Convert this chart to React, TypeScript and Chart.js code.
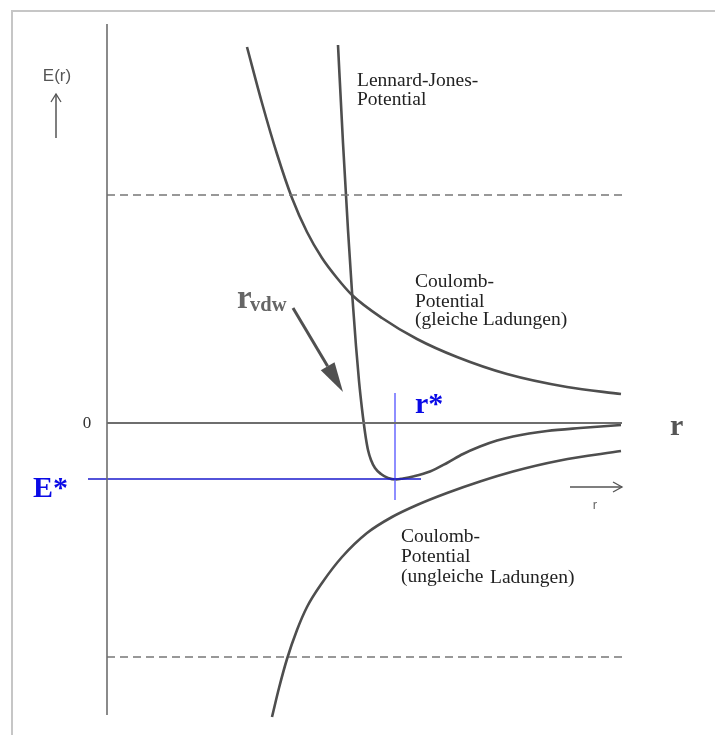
import React, { useEffect, useRef } from "react";
import { Chart, registerables } from "chart.js";

Chart.register(...registerables);

// Schematic units: r to the right of the E axis, E upward from the zero line.
const coulombRepR = [140, 155, 170, 185, 200, 215, 230, 245, 275, 310, 350, 400, 460, 514];
const coulombRepE = [376, 320, 269, 225, 191, 165, 145, 128, 105, 84, 66, 49, 36, 29];

const ljR = [231, 236, 241, 245, 249, 252, 255, 257, 259, 261, 264, 268, 274, 281, 289, 296, 306, 323, 340, 356, 373, 390, 406, 440, 473, 514];
const ljE = [378, 280, 193, 131, 77, 42, 14, -2, -16, -27, -37, -45, -51, -55, -56.5, -55.5, -53.5, -48.5, -40, -31, -23.5, -17.5, -13.5, -8, -5, -2];

const coulombAttR = [165, 172, 180, 190, 200, 215, 235, 260, 285, 310, 340, 373, 406, 453, 514];
const coulombAttE = [-294, -265, -236, -207, -184, -160, -134, -110, -94, -82, -70, -58.5, -48.5, -37.5, -28];

const axisR = [0, 0];
const axisE = [399, -292];
const zeroR = [0, 515];
const zeroE = [0, 0];
const dashR = [0, 516];
const dashUpperE = [228, 228];
const dashLowerE = [-234, -234];

const eStar = -56;
const rStar = 288;
const eStarLineR = [-19, 314];
const rStarLineE = [30, -77];

const toPts = (xs: number[], ys: number[]) => xs.map((x, i) => ({ x, y: ys[i] }));

const SERIF = '"Liberation Serif", "Times New Roman", serif';
const SANS = '"Liberation Sans", Arial, sans-serif';

type Label = { text: string; x: number; y: number; font: string; color: string; align?: CanvasTextAlign; baseline?: CanvasTextBaseline };

const labels: Label[] = [
  { text: "E(r)", x: -50, y: 347, font: `17px ${SANS}`, color: "#555", align: "center", baseline: "middle" },
  { text: "0", x: -20, y: -1, font: `17px ${SERIF}`, color: "#333", align: "center", baseline: "middle" },
  { text: "Lennard-Jones-", x: 250, y: 337, font: `19.5px ${SERIF}`, color: "#222" },
  { text: "Potential", x: 250, y: 318, font: `19.5px ${SERIF}`, color: "#222" },
  { text: "Coulomb-", x: 308, y: 136, font: `19.5px ${SERIF}`, color: "#222" },
  { text: "Potential", x: 308, y: 116, font: `19.5px ${SERIF}`, color: "#222" },
  { text: "(gleiche Ladungen)", x: 308, y: 98, font: `19.5px ${SERIF}`, color: "#222" },
  { text: "Coulomb-", x: 294, y: -119, font: `19.5px ${SERIF}`, color: "#222" },
  { text: "Potential", x: 294, y: -139, font: `19.5px ${SERIF}`, color: "#222" },
  { text: "(ungleiche", x: 294, y: -159, font: `19.5px ${SERIF}`, color: "#222" },
  { text: "Ladungen)", x: 383, y: -160, font: `19.5px ${SERIF}`, color: "#222" },
  { text: "E*", x: -74, y: -74, font: `bold 30px ${SERIF}`, color: "#0a0ae6" },
  { text: "r*", x: 308, y: 10, font: `bold 30px ${SERIF}`, color: "#0a0ae6" },
  { text: "r", x: 563, y: -12, font: `bold 30px ${SERIF}`, color: "#555" },
  { text: "r", x: 488, y: -82, font: `13px ${SANS}`, color: "#666", align: "center", baseline: "middle" },
  { text: "r", x: 130, y: 115, font: `bold 33px ${SERIF}`, color: "#666" },
  { text: "vdw", x: 143, y: 112, font: `bold 20.5px ${SERIF}`, color: "#666" },
];

type Arrow = { x1: number; y1: number; x2: number; y2: number; color: string; width: number; head: number; half: number; filled: boolean };

const arrows: Arrow[] = [
  { x1: -51, y1: 285, x2: -51, y2: 329, color: "#555", width: 1.5, head: 8, half: 5, filled: false },
  { x1: 463, y1: -64, x2: 515, y2: -64, color: "#555", width: 1.5, head: 9, half: 5, filled: false },
  { x1: 186, y1: 115, x2: 236, y2: 31, color: "#505050", width: 3, head: 30, half: 8, filled: true },
];

const annotationPlugin = {
  id: "schemeAnnotations",
  beforeDraw(chart: any) {
    const ctx = chart.ctx;
    ctx.save();
    ctx.fillStyle = "#c6c6c6";
    ctx.fillRect(11, 10, chart.width, 2);
    ctx.fillRect(11, 10, 2, chart.height);
    ctx.restore();
  },
  afterDatasetsDraw(chart: any) {
    const ctx = chart.ctx;
    const xs = chart.scales.x;
    const ys = chart.scales.y;
    ctx.save();
    for (const a of arrows) {
      const x1 = xs.getPixelForValue(a.x1);
      const y1 = ys.getPixelForValue(a.y1);
      const x2 = xs.getPixelForValue(a.x2);
      const y2 = ys.getPixelForValue(a.y2);
      const ang = Math.atan2(y2 - y1, x2 - x1);
      const bx = x2 - a.head * Math.cos(ang);
      const by = y2 - a.head * Math.sin(ang);
      const px = -Math.sin(ang) * a.half;
      const py = Math.cos(ang) * a.half;
      ctx.strokeStyle = a.color;
      ctx.fillStyle = a.color;
      ctx.lineWidth = a.width;
      ctx.lineCap = "butt";
      ctx.beginPath();
      ctx.moveTo(x1, y1);
      if (a.filled) ctx.lineTo(bx, by);
      else ctx.lineTo(x2, y2);
      ctx.stroke();
      ctx.beginPath();
      ctx.moveTo(bx + px, by + py);
      ctx.lineTo(x2, y2);
      ctx.lineTo(bx - px, by - py);
      if (a.filled) {
        ctx.closePath();
        ctx.fill();
      } else {
        ctx.lineWidth = 1.3;
        ctx.stroke();
      }
    }
    for (const l of labels) {
      ctx.font = l.font;
      ctx.fillStyle = l.color;
      ctx.textAlign = l.align || "left";
      ctx.textBaseline = l.baseline || "alphabetic";
      ctx.fillText(l.text, xs.getPixelForValue(l.x), ys.getPixelForValue(l.y));
    }
    ctx.restore();
  },
};

export default function App() {
  const ref = useRef<HTMLCanvasElement | null>(null);
  useEffect(() => {
    if (!ref.current) return;
    const curve = (data: any, color = "#4e4e4e") => ({
      data,
      borderColor: color,
      borderWidth: 2.6,
      pointRadius: 0,
      showLine: true,
      cubicInterpolationMode: "monotone" as const,
    });
    const straight = (data: any, color: string, width: number, dash: number[] = []) => ({
      data,
      borderColor: color,
      borderWidth: width,
      borderDash: dash,
      pointRadius: 0,
      showLine: true,
      tension: 0,
    });
    const chart = new Chart(ref.current, {
      type: "scatter",
      data: {
        datasets: [
          straight(toPts(axisR, axisE), "#6e6e6e", 1.6),
          straight(toPts(zeroR, zeroE), "#6e6e6e", 1.8),
          straight(toPts(dashR, dashUpperE), "#777", 1.6, [8, 5]),
          straight(toPts(dashR, dashLowerE), "#777", 1.6, [8, 5]),
          straight(toPts(eStarLineR, [eStar, eStar]), "#1a1acc", 1.5),
          straight(toPts([rStar, rStar], rStarLineE), "#6a6aff", 1.5),
          curve(toPts(coulombRepR, coulombRepE)),
          curve(toPts(ljR, ljE)),
          curve(toPts(coulombAttR, coulombAttE)),
        ],
      },
      options: {
        responsive: false,
        animation: false,
        events: [],
        layout: { padding: 0 },
        plugins: { legend: { display: false }, tooltip: { enabled: false }, title: { display: false } },
        scales: {
          x: { type: "linear", min: -107, max: 608, display: false },
          y: { type: "linear", min: -312, max: 423, display: false },
        },
      },
      plugins: [annotationPlugin],
    });
    return () => chart.destroy();
  }, []);
  return (
    <div style={{ position: "fixed", left: 0, top: 0, width: 715, height: 735, background: "#fff" }}>
      <canvas ref={ref} width={715} height={735} style={{ display: "block" }} />
    </div>
  );
}
